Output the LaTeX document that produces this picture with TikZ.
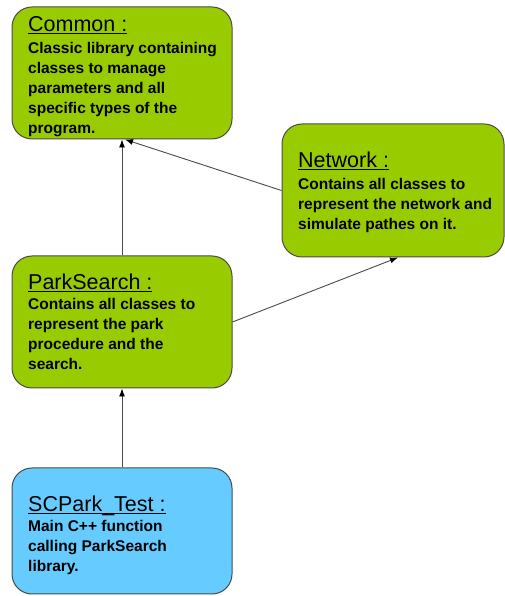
\documentclass[tikz,border=0pt]{standalone}
\usepackage{fontspec}
\setmainfont{Liberation Sans}
\usetikzlibrary{arrows.meta,calc}
\definecolor{boxgreen}{HTML}{99CC00}
\definecolor{boxblue}{HTML}{66CCFF}
\definecolor{edgegray}{HTML}{4A4A4A}
\tikzset{
  modbox/.style={draw=edgegray, line width=1pt, rounded corners=20pt, inner sep=0pt},
  titletext/.style={anchor=base west, inner sep=0pt, font=\fontsize{21.5}{24}\selectfont},
  bodytext/.style={anchor=base west, inner sep=0pt},
  dep/.style={draw=edgegray, line width=0.9pt, -{Latex[length=8pt,width=6pt,color=black]}}
}
\newcommand{\bodyfmt}[1]{\parbox[t]{215pt}{\raggedright\bfseries\fontsize{15.5}{19.8}\selectfont #1}}
\begin{document}
\begin{tikzpicture}[x=1pt,y=1pt]
\useasboundingbox (0,0) rectangle (505,596);
% boxes
\node[modbox, fill=boxgreen, minimum width=220pt, minimum height=132pt] (common) at (122,523) {};
\node[modbox, fill=boxgreen, minimum width=222pt, minimum height=133pt] (network) at (393,405.5) {};
\node[modbox, fill=boxgreen, minimum width=220pt, minimum height=132pt] (park) at (122,274) {};
\node[modbox, fill=boxblue, minimum width=220pt, minimum height=126pt] (sc) at (122,65) {};
% texts
\node[titletext] (commonT) at (28,564) {\underline{Common :}};
\node[bodytext] (commonB) at (28,542) {\bodyfmt{Classic library containing\\classes to manage\\parameters and all\\specific types of the\\program.}};
\node[titletext] (networkT) at (298,428) {\underline{Network :}};
\node[bodytext] (networkB) at (298,406) {\bodyfmt{Contains all classes to\\represent the network and\\simulate pathes on it.}};
\node[titletext] (parkT) at (28,306) {\underline{ParkSearch :}};
\node[bodytext] (parkB) at (28,286) {\bodyfmt{Contains all classes to\\represent the park\\procedure and the\\search.}};
\node[titletext] (scT) at (28,84) {\underline{SCPark\smash{\_}Test :}};
\node[bodytext] (scB) at (28,64) {\bodyfmt{Main C++ function\\calling ParkSearch\\library.}};
% connectors
\draw[dep] (park.north) -- (common.south);
\draw[dep] (network.west) -- ($(common.south)+(3,0)$);
\draw[dep] (park.east) -- ($(network.south)+(5,0)$);
\draw[dep] (sc.north) -- (park.south);
\end{tikzpicture}
\end{document}
